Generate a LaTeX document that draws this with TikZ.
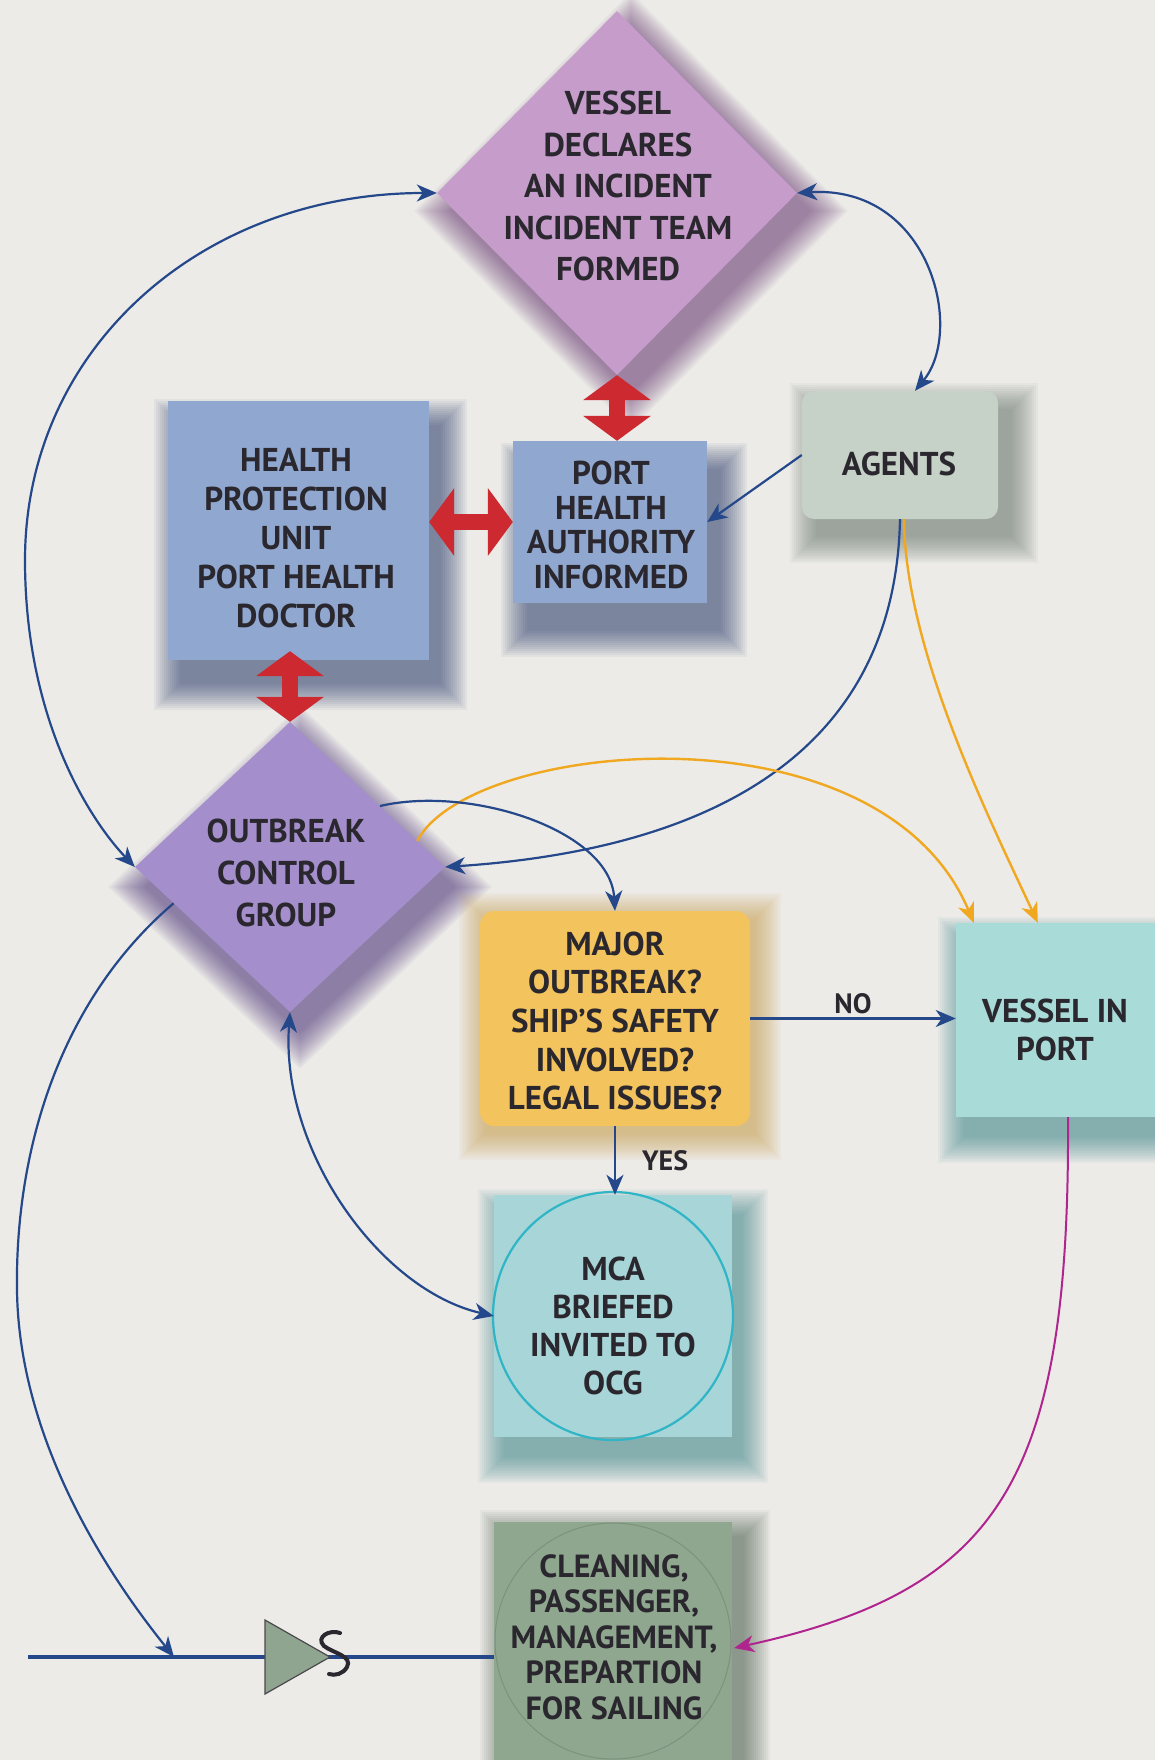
\documentclass[tikz,border=0pt]{standalone}
\usepackage{fontspec}
\setmainfont{PT Sans}
\usetikzlibrary{arrows.meta,calc,shapes.geometric}
\definecolor{bgc}{HTML}{ECEBE8}
\definecolor{ink}{HTML}{2A282E}
\definecolor{navy}{HTML}{24488A}
\definecolor{orng}{HTML}{F0A820}
\definecolor{magn}{HTML}{B0248E}
\definecolor{redc}{HTML}{CC2A30}
\definecolor{vdc}{HTML}{C69CCB}
\definecolor{vdsh}{HTML}{5E2A6A}
\definecolor{hpuc}{HTML}{90A7CF}
\definecolor{bsh}{HTML}{1E3264}
\definecolor{agc}{HTML}{C6D1C7}
\definecolor{agsh}{HTML}{5E6B60}
\definecolor{ocgc}{HTML}{A48FCC}
\definecolor{ocgsh}{HTML}{3E2470}
\definecolor{majc}{HTML}{F3C35E}
\definecolor{majsh}{HTML}{C89A40}
\definecolor{vipc}{HTML}{A9DCD9}
\definecolor{tsh}{HTML}{2E7E84}
\definecolor{mcac}{HTML}{A7D5D8}
\definecolor{mcar}{HTML}{2FB5C6}
\definecolor{clc}{HTML}{8FA68F}
\definecolor{clsh}{HTML}{3E523E}
\definecolor{clr}{HTML}{7D927D}
\definecolor{trif}{HTML}{8FA590}
\pgfdeclarelayer{back}
\pgfdeclarelayer{shade}
\pgfsetlayers{back,shade,main}
\newcommand\boxshade[4]{%
  \foreach \s in {0,2,...,26}{%
    \fill[#2,opacity=0.05] ($(#1.north west)+(#3-\s,#4-\s)$) rectangle ($(#1.south east)+(#3+\s,#4+\s)$);}}
\newcommand\diashade[4]{%
  \foreach \s in {0,2,...,26}{%
    \fill[#2,opacity=0.05] ($(#1.north)+(#3,#4-\s*1.4)$) -- ($(#1.east)+(#3+\s*1.4,#4)$) -- ($(#1.south)+(#3,#4+\s*1.4)$) -- ($(#1.west)+(#3-\s*1.4,#4)$) -- cycle;}}
\begin{document}
\begin{tikzpicture}[x=1pt,y=-1pt,
  txt/.style={text=ink,align=center,inner sep=0pt,font=\fontsize{33}{39}\selectfont\bfseries},
  conn/.style={draw=navy,line width=2.2pt,-{Stealth[length=20pt,width=17pt,inset=6pt]}},
  biconn/.style={draw=navy,line width=2.2pt,{Stealth[length=20pt,width=17pt,inset=6pt]}-{Stealth[length=20pt,width=17pt,inset=6pt]}},
  oconn/.style={draw=orng,line width=2.4pt,-{Stealth[length=20pt,width=17pt,inset=6pt]}},
  mconn/.style={draw=magn,line width=2pt,-{Stealth[length=20pt,width=17pt,inset=6pt]}},
  redarr/.style={draw=redc,line width=16pt,{Triangle[length=25pt,width=68pt,line width=0pt]}-{Triangle[length=25pt,width=68pt,line width=0pt]}},
  boxn/.style={inner sep=0pt,draw=none},
]
\begin{pgfonlayer}{back}
\fill[bgc] (0,0) rectangle (1155,1760);
\end{pgfonlayer}
\useasboundingbox (0,0) rectangle (1155,1760);

% shapes
\node[boxn,fill=vdc,diamond,minimum width=360pt,minimum height=364pt] (vd) at (617,193) {};
\node[boxn,fill=hpuc,minimum width=261pt,minimum height=259pt] (hpu) at (298.5,530.5) {};
\node[boxn,fill=hpuc,minimum width=194pt,minimum height=162pt] (pha) at (610,522) {};
\node[boxn,fill=agc,rounded corners=12pt,minimum width=196pt,minimum height=128pt] (agents) at (900,455) {};
\node[boxn,fill=ocgc,diamond,minimum width=310pt,minimum height=290pt] (ocg) at (290,867) {};
\node[boxn,fill=majc,rounded corners=14pt,minimum width=270pt,minimum height=215pt] (major) at (615,1018.5) {};
\node[boxn,fill=vipc,minimum width=210pt,minimum height=194pt] (vip) at (1061,1020) {};
\node[boxn,fill=mcac,minimum width=238pt,minimum height=242pt] (mca) at (613,1316) {};
\draw[mcar,line width=2.2pt] (mca.center) ellipse [x radius=120, y radius=124];
\node[boxn,fill=clc,minimum width=238pt,minimum height=238pt] (clean) at (613,1641) {};
\draw[clr,line width=1pt] (clean.center) circle (118);

% texts
\node[txt,font=\fontsize{33}{41.5}\selectfont\bfseries] (vdt) at (618,186) {VESSEL\\DECLARES\\AN INCIDENT\\INCIDENT TEAM\\FORMED};
\node[txt] (hput) at (296,538) {HEALTH\\PROTECTION\\UNIT\\PORT HEALTH\\DOCTOR};
\node[txt,font=\fontsize{33}{34.5}\selectfont\bfseries] (phat) at (611,525) {PORT\\HEALTH\\AUTHORITY\\INFORMED};
\node[txt] (agt) at (899,464) {AGENTS};
\node[txt,font=\fontsize{33}{42}\selectfont\bfseries] (ocgt) at (286,873) {OUTBREAK\\CONTROL\\GROUP};
\node[txt,font=\fontsize{33}{38.7}\selectfont\bfseries] (majt) at (615,1021) {MAJOR\\OUTBREAK?\\SHIP’S SAFETY\\INVOLVED?\\LEGAL ISSUES?};
\node[txt,font=\fontsize{33}{38}\selectfont\bfseries] (vipt) at (1055,1030) {VESSEL IN\\PORT};
\node[txt,font=\fontsize{33}{38.2}\selectfont\bfseries] (mcat) at (613,1326) {MCA\\BRIEFED\\INVITED TO\\OCG};
\node[txt,font=\fontsize{32}{35.4}\selectfont\bfseries] (clt) at (614,1637) {CLEANING,\\PASSENGER,\\MANAGEMENT,\\PREPARTION\\FOR SAILING};

% shadows
\begin{pgfonlayer}{shade}
\diashade{vd}{vdsh}{14}{18}
\diashade{ocg}{ocgsh}{10}{20}
\boxshade{hpu}{bsh}{12}{24}
\boxshade{pha}{bsh}{14}{28}
\boxshade{agents}{agsh}{14}{18}
\boxshade{major}{majsh}{5}{8}
\boxshade{vip}{tsh}{8}{20}
\boxshade{mca}{tsh}{10}{20}
\boxshade{clean}{clsh}{12}{14}
\end{pgfonlayer}

% helper coordinates
\coordinate (lc) at (25,560);
\coordinate (lc2) at (17,1290);
\coordinate (o1) at ($(ocg.north)!0.82!(ocg.east)$);
\coordinate (o2) at ($(ocg.north)!0.58!(ocg.east)$);
\coordinate (o3) at ($(ocg.west)!0.25!(ocg.south)$);
\coordinate (bstart) at (28,1657);
\coordinate (bhit) at (174,1657);

% bottom line and symbol
\draw[navy,line width=3.8pt] (bstart) -- (bstart -| clean.west);
\draw[fill=trif,draw=ink!85,line width=1.2pt] (265,1620) -- (330,1657) -- (265,1694) -- cycle;
\draw[ink,line width=4pt,line cap=round] (340,1633) .. controls (330,1629) and (315,1637) .. (324,1646) .. controls (333,1653) and (353,1656) .. (347,1667) .. controls (343,1674) and (335,1676) .. (329,1674);

% connectors
\draw[biconn] (vd.west) .. controls (200,193) and (25,350) .. (lc) .. controls (25,720) and (90,820) .. (ocg.west);
\draw[biconn] (vd.east) .. controls (930,185) and (965,330) .. ($(agents.north)+(15,0)$);
\draw[conn] (agents.west) -- (pha.east);
\draw[oconn] ($(agents.south)+(4,0)$) .. controls (905,650) and (990,820) .. ($(vip.north west)+(82,0)$);
\draw[conn] (agents.south) .. controls (895,760) and (700,850) .. (ocg.east);
\draw[oconn] (o1) .. controls (470,740) and (880,700) .. ($(vip.north west)+(18,0)$);
\draw[conn] (o2) .. controls (470,785) and (610,830) .. (major.north);
\draw[conn] (major.east) -- node[above,txt,font=\fontsize{28}{30}\selectfont\bfseries,inner sep=4pt] (nolab) {NO} (major.east -| vip.west);
\draw[conn] (major.south) -- node[right,txt,font=\fontsize{28}{30}\selectfont\bfseries,inner sep=26pt] (yeslab) {YES} (major.south |- mca.north);
\draw[biconn] (ocg.south) .. controls (280,1150) and (380,1290) .. (mca.west);
\draw[conn] (o3) .. controls (60,1000) and (15,1150) .. (lc2) .. controls (19,1450) and (120,1590) .. (bhit);
\draw[mconn] ($(vip.south)+(7,0)$) .. controls (1070,1480) and (1000,1590) .. ($(clean.east)+(2,7)$);

% red double arrows
\draw[redarr] (vd.south) -- (vd.south |- pha.north);
\draw[redarr] (hpu.east |- pha.west) -- (pha.west);
\draw[redarr] ($(hpu.south -| ocg.north)+(0,-9)$) -- (ocg.north);
\end{tikzpicture}
\end{document}
